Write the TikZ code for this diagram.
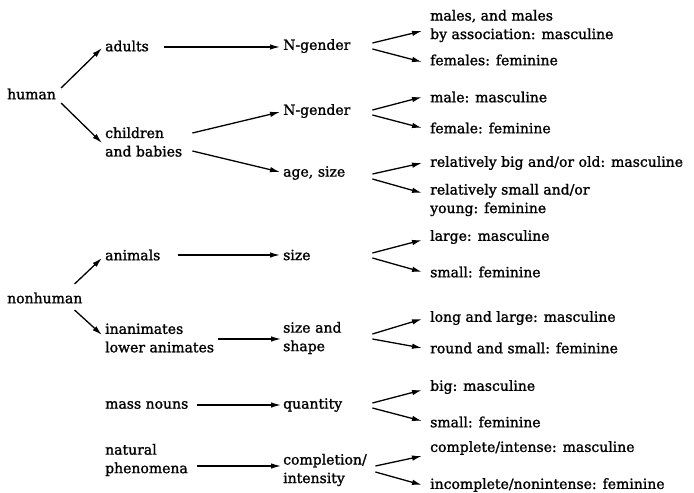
\documentclass[tikz,border=0pt]{standalone}
\usepackage{fontspec}
\setmainfont{DejaVu Serif}[FakeBold=1.4]
\usetikzlibrary{arrows.meta}

\begin{document}
\begin{tikzpicture}[x=1pt, y=-1pt,
    txt/.style={anchor=west, inner sep=0pt, align=left, font=\fontsize{14}{18.5}\selectfont},
    mid/.style={txt, text width=89pt},
    arr/.style={-{Latex[length=10pt,width=5.5pt]}, line width=1.3pt}]

    \useasboundingbox (0,0) rectangle (694,493);

    % Root nodes
    \node [txt] (human) at (7,94) {human};
    \node [txt] (nonhuman) at (7,298) {nonhuman};

    % Second column
    \node [txt] (adults) at (105,46) {adults};
    \node [txt] (children) at (105,142) {children\\and babies};
    \node [txt] (animals) at (105,255) {animals};
    \node [txt] (inanimates) at (105,338) {inanimates\\lower animates};
    \node [txt] (mass) at (105,405) {mass nouns};
    \node [txt] (natural) at (105,460) {natural\\phenomena};

    % Third column
    \node [mid] (ngenA) at (283,46) {N-gender};
    \node [mid] (ngenB) at (283,111) {N-gender};
    \node [mid] (agesize) at (283,173) {age, size};
    \node [mid] (size) at (283,255) {size};
    \node [mid] (shape) at (283,338) {size and\\shape};
    \node [mid] (quantity) at (283,405) {quantity};
    \node [mid] (completion) at (283,470) {completion/\\intensity};

    % Fourth column
    \node [txt] (males) at (430,26) {males, and males\\by association: masculine};
    \node [txt] (females) at (430,60) {females: feminine};
    \node [txt] (male) at (430,97) {male: masculine};
    \node [txt] (female) at (430,128) {female: feminine};
    \node [txt] (relbig) at (430,163) {relatively big and/or old: masculine};
    \node [txt] (relsmall) at (430,200) {relatively small and/or\\young: feminine};
    \node [txt] (large) at (430,237) {large: masculine};
    \node [txt] (smallA) at (430,272) {small: feminine};
    \node [txt] (longlarge) at (430,318) {long and large: masculine};
    \node [txt] (roundsmall) at (430,348) {round and small: feminine};
    \node [txt] (big) at (430,387) {big: masculine};
    \node [txt] (smallB) at (430,422) {small: feminine};
    \node [txt] (complete) at (430,448) {complete/intense: masculine};
    \node [txt] (incomplete) at (430,485) {incomplete/nonintense: feminine};

    % Human branch
    \draw [arr] ([xshift=5pt,yshift=6pt]human.east) -- ([xshift=-3pt,yshift=-2pt]adults.west);
    \draw [arr] ([xshift=5pt,yshift=-9pt]human.east) -- ([xshift=-3pt,yshift=-1pt]children.west);
    \draw [arr] ([xshift=15pt,yshift=-1pt]adults.east) -- ([xshift=-3pt,yshift=-1pt]ngenA.west);
    \draw [arr] ([xshift=10pt,yshift=9pt]children.east) -- ([xshift=-3pt,yshift=-1pt]ngenB.west);
    \draw [arr] ([xshift=10pt,yshift=-9pt]children.east) -- ([xshift=-3pt,yshift=1pt]agesize.west);

    \draw [arr] ([yshift=3pt]ngenA.east) -- ([xshift=-8pt,yshift=-5pt]males.west);
    \draw [arr] ([yshift=-3pt]ngenA.east) -- ([xshift=-8pt,yshift=-2pt]females.west);
    \draw [arr] ([yshift=1pt]ngenB.east) -- ([xshift=-8pt]male.west);
    \draw [arr] ([yshift=-4pt]ngenB.east) -- ([xshift=-8pt]female.west);
    \draw [arr] ([yshift=-1pt]agesize.east) -- ([xshift=-8pt]relbig.west);
    \draw [arr] ([yshift=-6pt]agesize.east) -- ([xshift=-8pt,yshift=7pt]relsmall.west);

    % Nonhuman branch
    \draw [arr] ([xshift=-8pt,yshift=14pt]nonhuman.east) -- ([xshift=-3pt,yshift=-3pt]animals.west);
    \draw [arr] ([xshift=-8pt,yshift=-12pt]nonhuman.east) -- ([xshift=-3pt,yshift=3pt]inanimates.west);
    \draw [arr] ([xshift=17pt]animals.east) -- ([xshift=-3pt]size.west);
    \draw [arr] ([xshift=4pt,yshift=-1pt]inanimates.east) -- ([xshift=-2pt,yshift=-1pt]shape.west);
    \draw [arr] ([xshift=8pt]mass.east) -- ([xshift=-2pt]quantity.west);
    \draw [arr] ([xshift=9pt,yshift=-6pt]natural.east) -- ([xshift=-2pt,yshift=4pt]completion.west);

    \draw [arr] ([yshift=2pt]size.east) -- ([xshift=-8pt,yshift=-3pt]large.west);
    \draw [arr] ([yshift=-3pt]size.east) -- ([xshift=-8pt]smallA.west);
    \draw [arr] ([yshift=4pt]shape.east) -- ([xshift=-8pt,yshift=-1pt]longlarge.west);
    \draw [arr] ([yshift=-1pt]shape.east) -- ([xshift=-8pt]roundsmall.west);
    \draw [arr] ([yshift=2pt]quantity.east) -- ([xshift=-8pt,yshift=-3pt]big.west);
    \draw [arr] ([yshift=-3pt]quantity.east) -- ([xshift=-8pt,yshift=1pt]smallB.west);
    \draw [arr] ([xshift=3pt,yshift=4pt]completion.east) -- ([xshift=-8pt,yshift=-8pt]complete.west);
    \draw [arr] ([xshift=3pt,yshift=-2pt]completion.east) -- ([xshift=-8pt]incomplete.west);

\end{tikzpicture}
\end{document}
